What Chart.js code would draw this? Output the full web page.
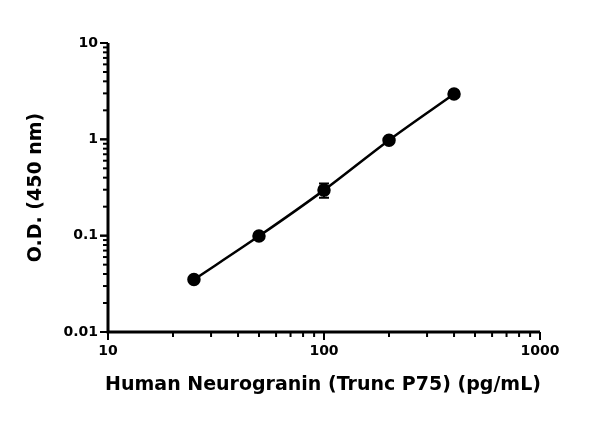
<!DOCTYPE html>
<html>
<head>
<meta charset="utf-8">
<script src="https://cdn.jsdelivr.net/npm/chart.js@4/dist/chart.umd.min.js"></script>
<style>
  html, body { margin: 0; padding: 0; background: #fff; }
  #wrap { width: 600px; height: 421px; }
</style>
</head>
<body>
<div id="wrap"><canvas id="c"></canvas></div>
<script>
// concentrations (pg/mL) and mean O.D.
const conc = [25, 50, 100, 200, 400];
const od = [0.035, 0.099, 0.297, 0.98, 2.95];
const odErr = [0, 0, 0.05, 0, 0];
const xTicks = [10, 100, 1000];
const yTicks = [0.01, 0.1, 1, 10];
const xTitle = "Human Neurogranin (Trunc P75) (pg/mL)";
const yTitle = "O.D. (450 nm)";

const FONT = "'DejaVu Sans', sans-serif";

// draws axes, ticks (major + minor), labels, error bars
const axesPlugin = {
  id: "axesPlugin",
  afterDatasetsDraw(chart) {
    const ctx = chart.ctx, xs = chart.scales.x, ys = chart.scales.y;
    const a = chart.chartArea;
    ctx.save();
    ctx.strokeStyle = "#000";
    ctx.fillStyle = "#000";
    ctx.lineWidth = 3;
    ctx.beginPath();
    ctx.moveTo(a.left, a.top);
    ctx.lineTo(a.left, a.bottom);
    ctx.lineTo(a.right, a.bottom);
    ctx.stroke();

    ctx.lineWidth = 2;
    // x ticks
    for (let d = 10; d < 1000; d *= 10) {
      for (let m = 1; m <= 10; m++) {
        const px = xs.getPixelForValue(d * m);
        const len = (m === 1 || m === 10) ? 8 : 5;
        ctx.beginPath(); ctx.moveTo(px, a.bottom); ctx.lineTo(px, a.bottom + len); ctx.stroke();
      }
    }
    // y ticks
    for (let d = 0.01; d < 9; d *= 10) {
      for (let m = 1; m <= 10; m++) {
        const py = ys.getPixelForValue(d * m);
        const len = (m === 1 || m === 10) ? 8 : 5;
        ctx.beginPath(); ctx.moveTo(a.left, py); ctx.lineTo(a.left - len, py); ctx.stroke();
      }
    }

    ctx.font = "bold 14px " + FONT;
    ctx.textAlign = "center"; ctx.textBaseline = "top";
    xTicks.forEach(v => ctx.fillText(String(v), xs.getPixelForValue(v), a.bottom + 12));
    ctx.textAlign = "right"; ctx.textBaseline = "middle";
    yTicks.forEach(v => ctx.fillText(String(v), a.left - 10, ys.getPixelForValue(v)));

    ctx.font = "bold 19px " + FONT;
    ctx.textAlign = "center"; ctx.textBaseline = "middle";
    ctx.fillText(xTitle, 323, 385);
    ctx.save();
    ctx.translate(36, (a.top + a.bottom) / 2);
    ctx.rotate(-Math.PI / 2);
    ctx.fillText(yTitle, 0, 0);
    ctx.restore();

    // error bars
    ctx.lineWidth = 2;
    conc.forEach((c, i) => {
      if (!odErr[i]) return;
      const px = xs.getPixelForValue(c);
      const hi = ys.getPixelForValue(od[i] + odErr[i]);
      const lo = ys.getPixelForValue(od[i] - odErr[i]);
      ctx.beginPath();
      ctx.moveTo(px, hi); ctx.lineTo(px, lo);
      ctx.moveTo(px - 5, hi); ctx.lineTo(px + 5, hi);
      ctx.moveTo(px - 5, lo); ctx.lineTo(px + 5, lo);
      ctx.stroke();
    });
    ctx.restore();
  }
};

new Chart(document.getElementById("c"), {
  type: "line",
  data: {
    datasets: [{
      data: conc.map((c, i) => ({ x: c, y: od[i] })),
      borderColor: "#000",
      backgroundColor: "#000",
      borderWidth: 2.5,
      pointRadius: 5.5,
      pointHoverRadius: 5.5,
      cubicInterpolationMode: "monotone",
      clip: false
    }]
  },
  options: {
    responsive: true,
    maintainAspectRatio: false,
    animation: false,
    layout: { padding: { left: 0, top: 43, right: 60, bottom: 0 } },
    plugins: { legend: { display: false }, tooltip: { enabled: false } },
    scales: {
      x: {
        type: "logarithmic", min: 10, max: 1000,
        grid: { display: false }, border: { display: false },
        ticks: { display: false },
        afterFit(s) { s.height = 89; }
      },
      y: {
        type: "logarithmic", min: 0.01, max: 10,
        grid: { display: false }, border: { display: false },
        ticks: { display: false },
        afterFit(s) { s.width = 108; }
      }
    }
  },
  plugins: [axesPlugin]
});
</script>
</body>
</html>
